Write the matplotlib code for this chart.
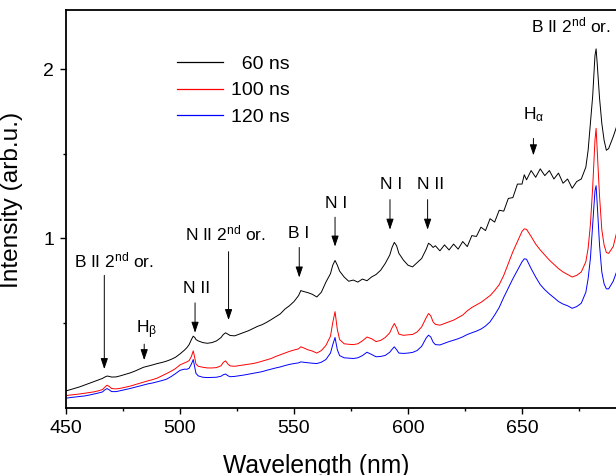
import numpy as np
import matplotlib
matplotlib.use('Agg')
import matplotlib.pyplot as plt
from matplotlib.ticker import FixedLocator

plt.rcParams['font.family'] = ['Liberation Sans', 'DejaVu Sans']
plt.rcParams['mathtext.fontset'] = 'custom'
plt.rcParams['mathtext.rm'] = 'Liberation Sans'
plt.rcParams['mathtext.it'] = 'Liberation Sans'
plt.rcParams['mathtext.default'] = 'regular'

# emission spectra at three gate delays, shared wavelength axis (nm)
wavelength = [
    450, 452, 454, 456, 458, 460, 462, 464, 466, 467,
    468, 469, 470, 472, 474, 476, 478, 480, 482, 484,
    486, 488, 490, 492, 494, 496, 498, 500, 502, 503,
    504, 505, 505.8, 506.5, 507, 508, 510, 512, 514, 516,
    518, 519, 520, 521, 522, 524, 526, 528, 530, 532,
    534, 536, 538, 540, 542, 544, 546, 548, 550, 552,
    553, 554, 556, 558, 560, 562, 564, 566, 567, 568,
    569, 570, 572, 574, 576, 578, 580, 582, 584, 586,
    588, 590, 592, 593, 594, 595, 596, 598, 600, 602,
    604, 606, 608, 609, 610, 611, 612, 614, 616, 618,
    620, 622, 624, 626, 628, 630, 632, 634, 636, 638,
    640, 642, 644, 646, 648, 650, 651, 652, 654, 656,
    658, 660, 662, 664, 666, 668, 670, 672, 674, 676,
    678, 679, 680, 681, 682, 682.5, 683, 684, 685, 686,
    687, 688, 690, 692, 694, 696,
]

int_60ns = [
    0.096, 0.104, 0.112, 0.120, 0.130, 0.140, 0.150, 0.160, 0.170, 0.178,
    0.184, 0.182, 0.178, 0.179, 0.186, 0.194, 0.202, 0.212, 0.224, 0.236,
    0.243, 0.250, 0.258, 0.264, 0.272, 0.282, 0.295, 0.315, 0.338, 0.352,
    0.370, 0.400, 0.420, 0.412, 0.400, 0.392, 0.382, 0.378, 0.382, 0.392,
    0.412, 0.430, 0.440, 0.432, 0.424, 0.422, 0.432, 0.442, 0.452, 0.465,
    0.478, 0.488, 0.502, 0.518, 0.535, 0.552, 0.580, 0.600, 0.625, 0.660,
    0.690, 0.685, 0.678, 0.668, 0.652, 0.680, 0.740, 0.790, 0.840, 0.868,
    0.840, 0.805, 0.770, 0.745, 0.752, 0.740, 0.758, 0.748, 0.770, 0.785,
    0.810, 0.850, 0.900, 0.945, 0.975, 0.955, 0.910, 0.870, 0.840, 0.830,
    0.855, 0.880, 0.935, 0.970, 0.960, 0.945, 0.955, 0.925, 0.960, 0.930,
    0.965, 0.935, 0.980, 0.950, 1.015, 1.010, 1.065, 1.045, 1.115, 1.095,
    1.165, 1.160, 1.235, 1.240, 1.320, 1.320, 1.375, 1.345, 1.400, 1.360,
    1.410, 1.370, 1.400, 1.350, 1.385, 1.325, 1.350, 1.295, 1.335, 1.350,
    1.420, 1.520, 1.680, 1.840, 2.080, 2.120, 2.030, 1.830, 1.680, 1.580,
    1.520, 1.530, 1.600, 1.680, 1.740, 1.780,
]

int_100ns = [
    0.068, 0.072, 0.075, 0.078, 0.082, 0.086, 0.090, 0.096, 0.104, 0.118,
    0.130, 0.122, 0.110, 0.108, 0.112, 0.118, 0.124, 0.132, 0.140, 0.148,
    0.156, 0.163, 0.172, 0.185, 0.198, 0.212, 0.228, 0.250, 0.262, 0.268,
    0.275, 0.300, 0.333, 0.290, 0.255, 0.242, 0.236, 0.232, 0.232, 0.234,
    0.245, 0.265, 0.274, 0.255, 0.244, 0.242, 0.246, 0.250, 0.254, 0.258,
    0.264, 0.272, 0.280, 0.288, 0.300, 0.310, 0.320, 0.330, 0.338, 0.345,
    0.357, 0.352, 0.340, 0.332, 0.320, 0.335, 0.365, 0.420, 0.500, 0.565,
    0.460, 0.400, 0.375, 0.372, 0.370, 0.375, 0.392, 0.415, 0.405, 0.388,
    0.395, 0.412, 0.440, 0.470, 0.495, 0.470, 0.432, 0.425, 0.428, 0.430,
    0.445, 0.475, 0.530, 0.554, 0.540, 0.505, 0.490, 0.485, 0.495, 0.505,
    0.515, 0.530, 0.545, 0.570, 0.590, 0.605, 0.620, 0.640, 0.660, 0.690,
    0.725, 0.780, 0.850, 0.920, 0.980, 1.040, 1.055, 1.052, 1.010, 0.965,
    0.930, 0.900, 0.870, 0.845, 0.820, 0.800, 0.785, 0.770, 0.780, 0.800,
    0.860, 0.940, 1.080, 1.300, 1.580, 1.650, 1.520, 1.250, 1.050, 0.960,
    0.915, 0.910, 0.950, 1.060, 1.160, 1.230,
]

int_120ns = [
    0.053, 0.057, 0.060, 0.063, 0.066, 0.071, 0.077, 0.083, 0.090, 0.102,
    0.110, 0.102, 0.092, 0.092, 0.098, 0.104, 0.110, 0.117, 0.124, 0.131,
    0.138, 0.143, 0.150, 0.157, 0.165, 0.180, 0.198, 0.218, 0.225, 0.224,
    0.230, 0.255, 0.282, 0.235, 0.200, 0.185, 0.177, 0.175, 0.176, 0.177,
    0.183, 0.192, 0.196, 0.186, 0.180, 0.182, 0.186, 0.190, 0.195, 0.200,
    0.205, 0.210, 0.218, 0.225, 0.232, 0.238, 0.246, 0.253, 0.258, 0.262,
    0.268, 0.266, 0.263, 0.260, 0.258, 0.266, 0.282, 0.320, 0.370, 0.412,
    0.340, 0.305, 0.292, 0.290, 0.288, 0.292, 0.305, 0.325, 0.312, 0.298,
    0.300, 0.306, 0.325, 0.342, 0.357, 0.340, 0.320, 0.318, 0.320, 0.324,
    0.335, 0.360, 0.410, 0.426, 0.415, 0.385, 0.370, 0.368, 0.378, 0.388,
    0.396, 0.405, 0.416, 0.430, 0.440, 0.450, 0.462, 0.480, 0.505, 0.545,
    0.590, 0.650, 0.705, 0.760, 0.810, 0.860, 0.878, 0.875, 0.820, 0.770,
    0.725, 0.695, 0.670, 0.648, 0.625, 0.610, 0.600, 0.585, 0.595, 0.615,
    0.680, 0.760, 0.880, 1.080, 1.280, 1.310, 1.200, 0.960, 0.800, 0.730,
    0.700, 0.700, 0.745, 0.820, 0.880, 0.920,
]

series = [
    ('  60 ns', int_60ns, '#000000'),
    ('100 ns', int_100ns, '#ff0000'),
    ('120 ns', int_120ns, '#0000ff'),
]

# line identifications: label, text anchor (wl, I), arrow x, arrow top, arrow tip
lines_id = [
    (r'B II 2$^{nd}$ or.', 453.5, 0.828, 466.8, 0.78, 0.225),
    (r'H$_{\beta}$', 480.7, 0.438, 484.3, 0.373, 0.278),
    ('N II', 501.3, 0.675, 506.6, 0.617, 0.44),
    (r'N II 2$^{nd}$ or.', 502.2, 0.985, 521.3, 0.92, 0.515),
    ('B I', 547.4, 0.998, 552.3, 0.945, 0.767),
    ('N I', 563.6, 1.178, 568.0, 1.124, 0.95),
    ('N I', 587.7, 1.288, 592.1, 1.228, 1.05),
    ('N II', 603.8, 1.288, 608.6, 1.228, 1.05),
    (r'H$_{\alpha}$', 650.3, 1.704, 655.0, 1.59, 1.49),
    (r'B II 2$^{nd}$ or.', 653.8, 2.217, None, None, None),
]

fig = plt.figure(figsize=(6.16, 4.75), dpi=100)
ax = fig.add_axes([66 / 616, 67 / 475, 570 / 616, 398 / 475])

handles = []
for label, vals, color in series:
    ln, = ax.plot(wavelength, vals, color=color, lw=0.7, label=label)
    handles.append(ln)

for text, tx, ty, ax_wl, y0, y1 in lines_id:
    ax.text(tx, ty, text, fontsize=12.5, ha='left', va='baseline')
    if ax_wl is not None:
        ax.annotate('', xy=(ax_wl, y1), xytext=(ax_wl, y0),
                    arrowprops=dict(arrowstyle='-|>,head_length=0.65,head_width=0.22',
                                    color='black', lw=0.7, mutation_scale=10,
                                    shrinkA=0, shrinkB=0))

ax.set_xlim(450, 700)
ax.set_ylim(-0.005, 2.35)
ax.xaxis.set_major_locator(FixedLocator([450, 500, 550, 600, 650]))
ax.xaxis.set_minor_locator(FixedLocator([475, 525, 575, 625, 675]))
ax.yaxis.set_major_locator(FixedLocator([1, 2]))
ax.yaxis.set_minor_locator(FixedLocator([0.5, 1.5]))
ax.tick_params(which='major', length=4.5, width=1.0, labelsize=14, pad=4)
ax.tick_params(which='minor', length=2.5, width=1.0)
for s in ax.spines.values():
    s.set_linewidth(1.3)

ax.set_xlabel('Wavelength (nm)', fontsize=17.7)
ax.xaxis.set_label_coords(0.439, -0.115)
ax.set_ylabel('Intensity (arb.u.)', fontsize=17.6)
ax.yaxis.set_label_coords(-0.075, 0.523)

leg = ax.legend(handles=handles, labels=[s[0] for s in series],
                loc='upper left', bbox_to_anchor=(0.194, 0.886), frameon=False,
                fontsize=14, handlelength=2.37, handletextpad=0.41,
                labelspacing=0.45, borderpad=0, borderaxespad=0)
for legline, (_, _, color) in zip(leg.get_lines(), series):
    legline.set_color(color)
    legline.set_linewidth(0.9)

fig.savefig('out.png', dpi=100)
